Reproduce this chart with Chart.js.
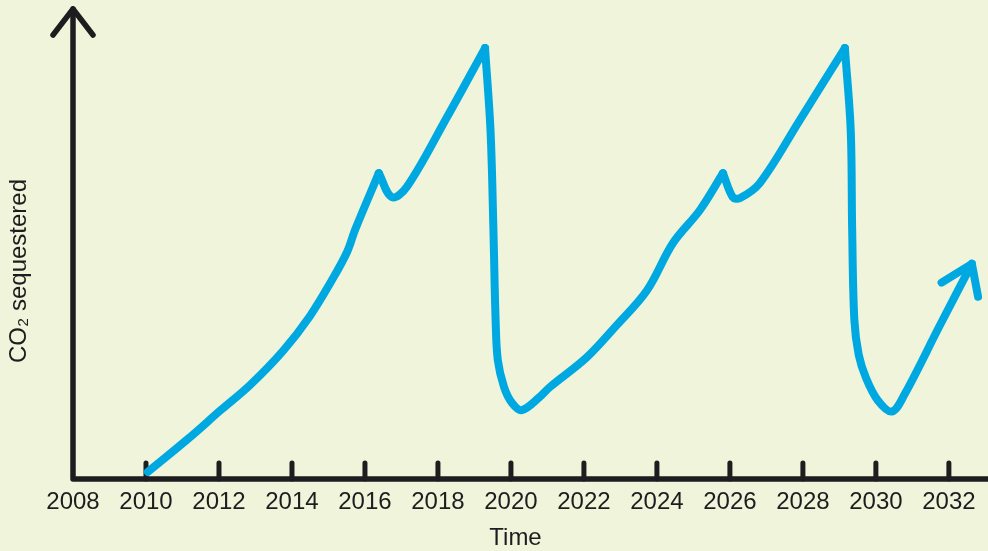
<!DOCTYPE html>
<html lang="en">

<head>
    <meta charset="UTF-8">
    <title>CO2 sequestered over time</title>
    <script src="https://cdn.jsdelivr.net/npm/chart.js@4.4.1/dist/chart.umd.min.js"></script>
    <style>
        html, body { margin: 0; padding: 0; background: #eff4da; }
        canvas { display: block; }
    </style>
</head>

<body>
    <canvas id="myChart" width="988" height="551"></canvas>

    <script>
        // values (years, arbitrary CO2 units)
        const years = [2010.05, 2011.15, 2012.05, 2012.85, 2013.75, 2014.49, 2015.10, 2015.51, 2015.73, 2016.38,
            2016.74, 2017.15, 2018.25, 2019.29,
            2019.44, 2019.52, 2019.58, 2019.64, 2019.81, 2020.03, 2020.30, 2020.79, 2021.07, 2022.08, 2022.90,
            2023.73, 2024.44, 2025.18, 2025.81,
            2026.08, 2026.27, 2026.82, 2027.92, 2029.15,
            2029.31, 2029.35, 2029.41, 2029.53, 2029.73, 2030.05, 2030.44, 2030.79, 2031.73, 2032.63]
        const co2 = [1.5, 8.5, 14.6, 19.9, 27.1, 34.5, 42.2, 48.1, 52.8, 64.8,
            59.7, 61.9, 76.7, 91.3,
            73.9, 52.8, 33.7, 25.2, 19.5, 16.1, 14.6, 17.4, 19.5, 25.8, 32.6,
            40.0, 50.0, 57.0, 64.8,
            59.7, 59.5, 62.7, 76.1, 91.3,
            73.9, 52.8, 33.7, 26.3, 21.4, 16.7, 14.3, 18.0, 32.2, 45.6]
        // indexes of the sharp corners, the line is cut there
        const corners = [9, 13, 28, 33]

        // arrow head at the end of the curve (right arm, tip, left arm)
        const arrowYears = [2032.80, 2032.63, 2031.80]
        const arrowCo2 = [38.6, 45.6, 41.6]

        const xTicks = [2008, 2010, 2012, 2014, 2016, 2018, 2020, 2022, 2024, 2026, 2028, 2030, 2032]
        const xTickLabels = ['2008', '2010', '2012', '2014', '2016', '2018', '2020', '2022', '2024', '2026', '2028', '2030', '2032']

        const blue = '#00a8e1'
        const ink = '#1d1d1f'
        const font = 'Liberation Sans, Arial, sans-serif'

        // build one dataset per piece between corners
        const datasets = []
        const cuts = [0, ...corners, years.length - 1]
        for (let i = 0; i < cuts.length - 1; i++) {
            const pts = []
            for (let j = cuts[i]; j <= cuts[i + 1]; j++) {
                pts.push({ x: years[j], y: co2[j] })
            }
            datasets.push({
                data: pts,
                borderColor: blue,
                borderWidth: 8,
                borderCapStyle: 'round',
                borderJoinStyle: 'round',
                tension: 0.35,
                pointRadius: 0,
                clip: false
            })
        }
        datasets.push({
            data: arrowYears.map((x, i) => ({ x: x, y: arrowCo2[i] })),
            borderColor: blue,
            borderWidth: 8,
            borderCapStyle: 'round',
            borderJoinStyle: 'round',
            tension: 0,
            pointRadius: 0,
            clip: false
        })

        const background = {
            id: 'background',
            beforeDraw(chart) {
                const ctx = chart.ctx
                ctx.save()
                ctx.fillStyle = '#eff4da'
                ctx.fillRect(0, 0, chart.width, chart.height)
                ctx.restore()
            }
        }

        // hand drawn looking axes: arrow on y, tick marks up from x
        const axes = {
            id: 'axes',
            beforeDatasetsDraw(chart) {
                const ctx = chart.ctx
                const area = chart.chartArea
                const x = chart.scales.x
                const top = 9
                ctx.save()
                ctx.strokeStyle = ink
                ctx.lineWidth = 5.5
                ctx.lineCap = 'round'
                ctx.lineJoin = 'round'
                ctx.beginPath()
                ctx.moveTo(area.left, top)
                ctx.lineTo(area.left, area.bottom)
                ctx.lineTo(chart.width + 5, area.bottom)
                ctx.stroke()
                ctx.beginPath()
                ctx.moveTo(area.left - 20, top + 26)
                ctx.lineTo(area.left, top)
                ctx.lineTo(area.left + 20, top + 26)
                ctx.stroke()
                ctx.lineWidth = 5
                xTicks.slice(1).forEach(v => {
                    const px = x.getPixelForValue(v)
                    ctx.beginPath()
                    ctx.moveTo(px, area.bottom)
                    ctx.lineTo(px, area.bottom - 16)
                    ctx.stroke()
                })
                ctx.restore()
            }
        }

        const ctx = document.getElementById('myChart').getContext('2d')
        const myChart = new Chart(ctx, {
            type: 'line',
            data: { datasets: datasets },
            options: {
                responsive: false,
                animation: false,
                devicePixelRatio: 1,
                layout: { padding: { top: 63, right: 30, left: 0, bottom: 0 } },
                plugins: {
                    legend: { display: false },
                    tooltip: { enabled: false }
                },
                scales: {
                    x: {
                        type: 'linear',
                        min: 2008,
                        max: 2032.25,
                        afterBuildTicks: scale => {
                            scale.ticks = xTicks.map(v => ({ value: v }))
                        },
                        afterFit: scale => { scale.height = 72 },
                        grid: { display: false, drawTicks: false },
                        border: { display: false },
                        ticks: {
                            padding: 9,
                            color: ink,
                            maxRotation: 0,
                            autoSkip: false,
                            font: { family: font, size: 24 },
                            callback: (v, i) => xTickLabels[i]
                        },
                        title: {
                            display: true,
                            text: 'Time',
                            color: ink,
                            padding: { top: 0, bottom: -2 },
                            font: { family: font, size: 24 }
                        }
                    },
                    y: {
                        min: 0,
                        max: 88.14,
                        afterFit: scale => { scale.width = 73 },
                        grid: { display: false, drawTicks: false },
                        border: { display: false },
                        ticks: { display: false },
                        title: {
                            display: true,
                            text: 'CO₂ sequestered',
                            color: ink,
                            padding: { top: 5, bottom: 0 },
                            font: { family: font, size: 24 }
                        }
                    }
                }
            },
            plugins: [background, axes]
        })
    </script>
</body>

</html>
